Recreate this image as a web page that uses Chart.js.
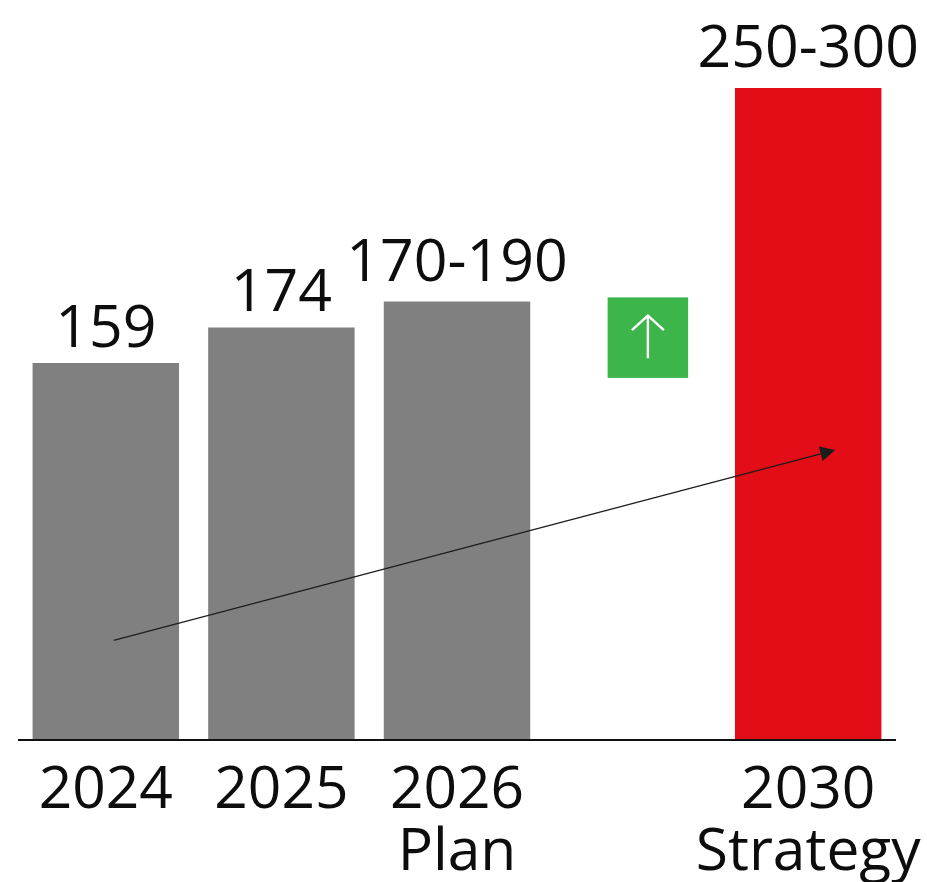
<!DOCTYPE html>
<html><head><meta charset="utf-8">
<style>html,body{margin:0;padding:0;background:#fff}#w{position:absolute;left:0;top:0;width:927px;height:882px}</style>
<script src="https://cdn.jsdelivr.net/npm/chart.js@4"></script></head>
<body><div id="w"><canvas id="c" width="927" height="882"></canvas></div>
<script>
const categories = [["2024"],["2025"],["2026","Plan"],"",["2030","Strategy"]];
const values = [159,174,185,null,275];
const valueLabels = ["159","174","170-190","","250-300"];
const labelLift = [16,16,20,0,21];
const barColors = ["#808080","#808080","#808080","#808080","#e30d18"];
const growthArrow = [{i:0.045,v:42},{i:4.154,v:122.3}];
const growthBadge = {i:3.087,v:169.7,size:80.5};
const FONT = '"Open Sans"';
const overlay = {
  id:'overlay',
  afterDatasetsDraw(ch){
    const {ctx,scales:{x,y}} = ch;
    const px = i => x.getPixelForValue(0)+i*(x.getPixelForValue(1)-x.getPixelForValue(0));
    ctx.save();
    ctx.strokeStyle='#111';ctx.lineWidth=2;
    ctx.beginPath();ctx.moveTo(x.left,y.bottom);ctx.lineTo(x.right,y.bottom);ctx.stroke();
    ctx.fillStyle='#0d0d0d';ctx.font='59px '+FONT;ctx.textAlign='center';ctx.textBaseline='alphabetic';
    const meta=ch.getDatasetMeta(0);
    valueLabels.forEach((t,k)=>{ if(!t) return; const b=meta.data[k]; ctx.fillText(t,b.x,b.y-labelLift[k]); });
    const x0=px(growthArrow[0].i),y0=y.getPixelForValue(growthArrow[0].v);
    const x1=px(growthArrow[1].i),y1=y.getPixelForValue(growthArrow[1].v);
    const a=Math.atan2(y1-y0,x1-x0),L=15,W=7.5;
    ctx.strokeStyle='#1d1d1b';ctx.lineWidth=1.3;
    ctx.beginPath();ctx.moveTo(x0,y0);ctx.lineTo(x1-L*Math.cos(a),y1-L*Math.sin(a));ctx.stroke();
    ctx.fillStyle='#1d1d1b';ctx.beginPath();ctx.moveTo(x1,y1);
    ctx.lineTo(x1-L*Math.cos(a)+W*Math.sin(a),y1-L*Math.sin(a)-W*Math.cos(a));
    ctx.lineTo(x1-L*Math.cos(a)-W*Math.sin(a),y1-L*Math.sin(a)+W*Math.cos(a));
    ctx.closePath();ctx.fill();
    const bx=px(growthBadge.i),by=y.getPixelForValue(growthBadge.v),s=growthBadge.size;
    ctx.fillStyle='#3cb54a';ctx.fillRect(bx-s/2,by-s/2,s,s);
    ctx.strokeStyle='#fff';ctx.lineWidth=2.4;
    ctx.beginPath();ctx.moveTo(bx,by+20.5);ctx.lineTo(bx,by-22);
    ctx.moveTo(bx-16,by-7.5);ctx.lineTo(bx,by-22);ctx.lineTo(bx+16,by-7.5);ctx.stroke();
    ctx.restore();
  }
};
new Chart(document.getElementById('c'),{
  type:'bar',
  data:{labels:categories,datasets:[{data:values,backgroundColor:barColors,borderWidth:0,barPercentage:1,categoryPercentage:0.834}]},
  options:{
    responsive:false,animation:false,
    layout:{padding:{left:18,right:31,top:88,bottom:0}},
    plugins:{legend:{display:false},tooltip:{enabled:false}},
    scales:{
      x:{grid:{display:false,drawTicks:false},border:{display:false},
        afterFit(s){s.paddingLeft=0;s.paddingRight=0;s.height=142;},
        ticks:{color:'#0d0d0d',font:{family:FONT,size:58.7,lineHeight:1.06},padding:20,maxRotation:0,autoSkip:false}},
      y:{display:false,min:0,max:275}
    }
  },
  plugins:[overlay]
});
</script></body></html>
